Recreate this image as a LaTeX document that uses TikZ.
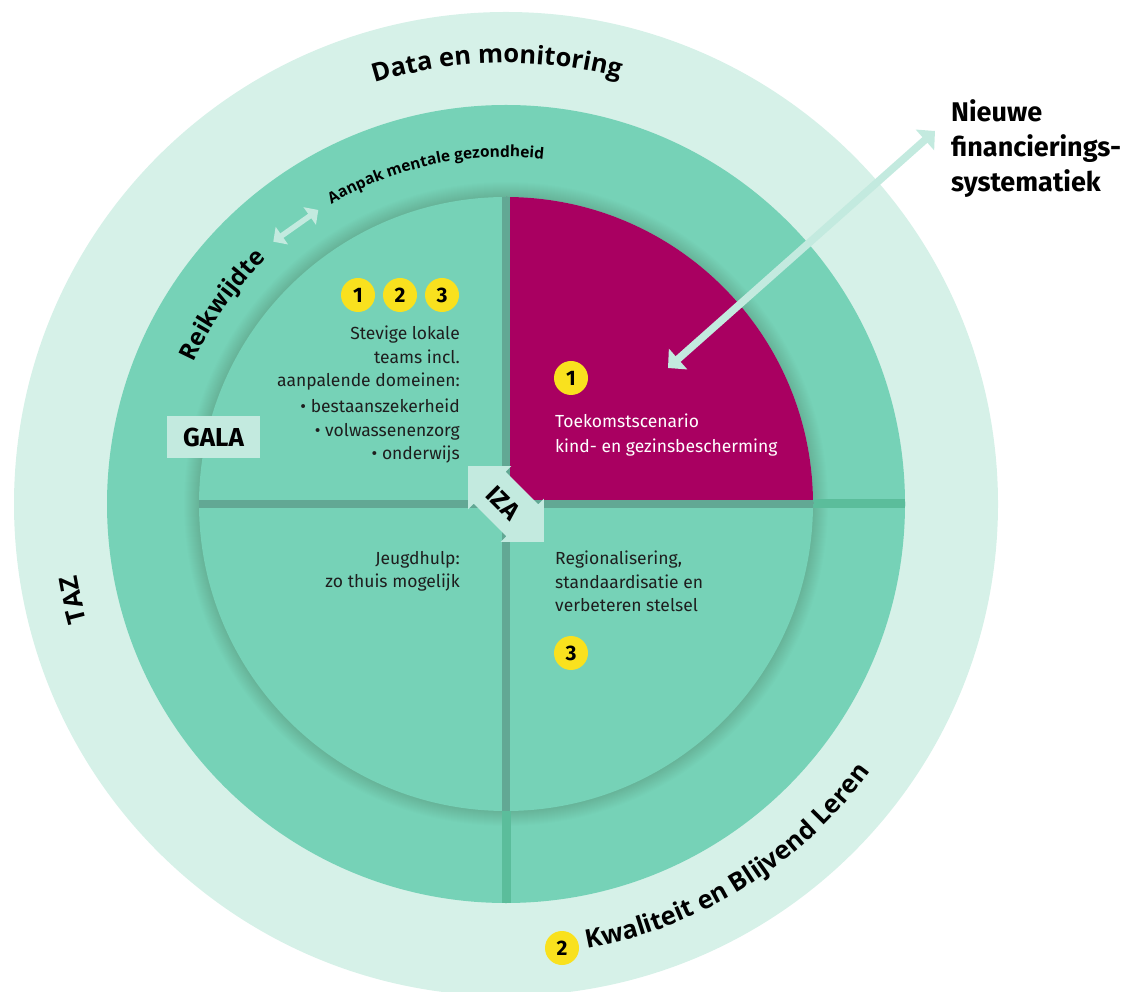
\documentclass[tikz,border=0pt]{standalone}
\usepackage{fontspec}
\setmainfont{Fira Sans}
\newfontfamily\osans{Open Sans}
\usetikzlibrary{arrows.meta,decorations.text,calc}
\definecolor{outerc}{HTML}{D6F1E8}
\definecolor{midc}{HTML}{76D2B7}
\definecolor{magc}{HTML}{A90061}
\definecolor{yelc}{HTML}{F9E11E}
\definecolor{arrc}{HTML}{C3EADF}
\definecolor{lineinc}{HTML}{62A894}
\definecolor{lineoutc}{HTML}{5BBD9B}
\definecolor{txtc}{HTML}{1E1E1E}
\newcommand\cfbig{\osans\bfseries\fontsize{25.5}{28}\selectfont}
\newcommand\cfmid{\osans\bfseries\fontsize{24}{26}\selectfont}
\newcommand\cfsmall{\osans\bfseries\fontsize{15.5}{18}\selectfont}
\begin{document}
\begin{tikzpicture}[x=1pt,y=1pt,
  badge/.style={circle, fill=yelc, minimum size=34pt, inner sep=0pt,
    font=\bfseries\fontsize{21}{21}\selectfont, text=black},
  bodyl/.style={anchor=base east, inner sep=0pt, text=txtc,
    font=\fontsize{17.5}{20}\selectfont},
  bodyr/.style={anchor=base west, inner sep=0pt, text=txtc,
    font=\fontsize{17.5}{20}\selectfont},
  headtxt/.style={anchor=base west, inner sep=0pt, text=black,
    font=\bfseries\fontsize{27}{30}\selectfont},
  lightarrow/.style={draw=arrc, line width=7.5pt,
    {Triangle[width=27pt,length=13.5pt]}-{Triangle[width=27pt,length=13.5pt]}},
  smallarrow/.style={draw=arrc, line width=5.5pt,
    {Triangle[width=21pt,length=10.5pt]}-{Triangle[width=21pt,length=10.5pt]}},
  curvetxt/.style={decorate, decoration={text along path, text align=center, text={#1}}}
]
\useasboundingbox (0,0) rectangle (1126,991);
\coordinate (C) at (506,487);

% rings
\fill[outerc] (C) circle[radius=492];
\fill[midc] (C) circle[radius=399];
\foreach \k in {16,...,1} \fill[black, opacity=0.0075] (C) circle[radius=306+\k];

% outer line extensions
\begin{scope}
  \clip (C) circle[radius=399];
  \coordinate (hr) at (906,487);
  \coordinate (vb) at (506,87);
  \draw[lineoutc, line width=9pt] (C) -- (hr);
  \draw[lineoutc, line width=9pt] (C) -- (vb);
\end{scope}

% inner circle
\fill[midc] (C) circle[radius=307];
\fill[magc] (C) -- (506,794) arc[start angle=90, end angle=0, radius=307] -- cycle;

\begin{scope}
  \clip (C) circle[radius=307];
  \coordinate (hl) at (190,487);
  \coordinate (hri) at (822,487);
  \coordinate (vt) at (506,800);
  \coordinate (vbi) at (506,170);
  \draw[lineinc, line width=8.5pt] (hl) -- (hri);
  \draw[lineinc, line width=8.5pt] (vt) -- (vbi);
\end{scope}

% IZA arrow
\begin{scope}[shift={(C)}, rotate=-45]
  \fill[arrc] (-53.5,0) -- (-23,30.5) -- (-23,22.5) -- (23,22.5) -- (23,30.5)
     -- (53.5,0) -- (23,-30.5) -- (23,-22.5) -- (-23,-22.5) -- (-23,-30.5) -- cycle;
\end{scope}
\node[rotate=-45, inner sep=0pt, font=\bfseries\fontsize{25}{25}\selectfont, text=black] (iza) at (503,488) {IZA};

% curved labels
\begin{scope}[shift={(C)}]
  \path[curvetxt={|\cfbig|Data en monitoring}]
    (121.2:441) arc[start angle=121.2, end angle=61.2, radius=441];
  \path[curvetxt={|\cfsmall|Aanpak mentale gezondheid}]
    (132:347) arc[start angle=132, end angle=72, radius=347];
  \path[curvetxt={|\cfmid|Reikwijdte}]
    (170:343) arc[start angle=170, end angle=120, radius=343];
  \path[curvetxt={|\cfbig|Kwaliteit en Blijvend Leren}]
    (-90:452) arc[start angle=-90, end angle=-26, radius=452];
  \path[curvetxt={|\cfbig|TAZ}]
    (208.5:435) arc[start angle=208.5, end angle=176.5, radius=435];
\end{scope}

% GALA
\node[fill=arrc, minimum width=93pt, minimum height=42pt, inner sep=0pt,
  font=\bfseries\fontsize{26}{26}\selectfont, text=black] (gala) at (213.5,554) {GALA};

% badges
\node[badge] (b1) at (358,696) {1};
\node[badge] (b2) at (400,696) {2};
\node[badge] (b3) at (442,696) {3};
\node[badge] (m1) at (571,613) {1};
\node[badge] (r3) at (571,338) {3};
\node[badge] (k2) at (562,43) {2};

% left upper text
\node[bodyl] (l1) at (460,651) {Stevige lokale};
\node[bodyl] (l2) at (460,627.5) {teams incl.};
\node[bodyl] (l3) at (460,604) {aanpalende domeinen:};
\node[bodyl] (l4) at (460,578.5) {• bestaanszekerheid};
\node[bodyl] (l5) at (460,554.5) {• volwassenenzorg};
\node[bodyl] (l6) at (460,531) {• onderwijs};

% left lower text
\node[bodyl] (j1) at (460,426) {Jeugdhulp:};
\node[bodyl] (j2) at (460,403) {zo thuis mogelijk};

% magenta text
\node[bodyr, text=white] (t1) at (555,563) {Toekomstscenario};
\node[bodyr, text=white] (t2) at (555,538) {kind- en gezinsbescherming};

% right lower text
\node[bodyr] (g1) at (555,426) {Regionalisering,};
\node[bodyr] (g2) at (555,402) {standaardisatie en};
\node[bodyr] (g3) at (555,379) {verbeteren stelsel};

% Nieuwe financieringssystematiek
\node[headtxt] (n1) at (951,869) {Nieuwe};
\node[headtxt] (n2) at (951,834) {financierings-};
\node[headtxt] (n3) at (951,799) {systematiek};

% arrows
\coordinate (ra1) at (273.3,749.3);
\coordinate (ra2) at (318.3,781);
\draw[smallarrow] (ra1) -- (ra2);
\coordinate (na1) at (668,623);
\coordinate (na2) at (935,860);
\draw[lightarrow] (na1) -- (na2);
\end{tikzpicture}
\end{document}
